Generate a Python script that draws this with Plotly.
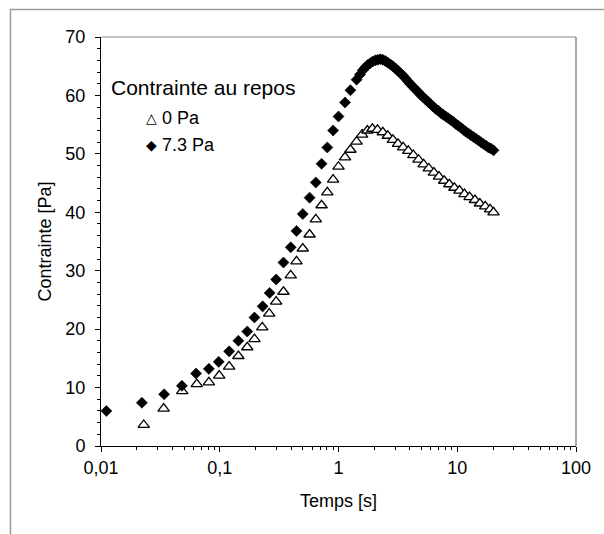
import plotly.graph_objects as go

# ---- data ----
t_0pa = [0.0229, 0.0337, 0.0483, 0.0641, 0.081, 0.099, 0.120, 0.1435, 0.1705, 0.196,
         0.228, 0.261, 0.2985, 0.344, 0.396, 0.443, 0.50, 0.571, 0.644, 0.72,
         0.805, 0.901, 1.0, 1.135, 1.26, 1.42, 1.58, 1.75, 1.93, 2.13,
         2.36, 2.6, 2.87, 3.17, 3.5, 3.87, 4.27, 4.72, 5.21, 5.76,
         6.36, 7.02, 7.76, 8.57, 9.46, 10.45, 11.5, 12.7, 14.1, 15.5,
         17.2, 18.9, 20.2]
s_0pa = [3.6, 6.4, 9.4, 10.6, 10.9, 12.05, 13.6, 15.4, 16.9, 18.3,
         20.3, 22.65, 24.7, 26.4, 29.2, 31.6, 33.8, 36.2, 38.8, 41.2,
         43.4, 45.6, 47.8, 49.4, 50.7, 52.1, 53.3, 54.0, 54.3, 54.1,
         53.7, 53.1, 52.4, 51.7, 51.1, 50.5, 49.8, 49.0, 48.2, 47.5,
         46.8, 46.1, 45.4, 44.8, 44.2, 43.7, 43.1, 42.6, 42.1, 41.5,
         41.0, 40.5, 40.0]

t_73pa = [0.0111, 0.0221, 0.034, 0.048, 0.0632, 0.081, 0.098, 0.120, 0.1435, 0.1705,
          0.196, 0.2297, 0.263, 0.2985, 0.344, 0.396, 0.443, 0.50, 0.571, 0.644,
          0.72, 0.805, 0.901, 1.0, 1.135, 1.26, 1.42,
          1.52, 1.60, 1.68, 1.76, 1.85, 1.94, 2.04, 2.14, 2.25, 2.36,
          2.48, 2.61, 2.74, 2.87, 3.02, 3.17, 3.33, 3.49, 3.67, 3.85,
          4.04, 4.24, 4.46, 4.68, 4.91, 5.16, 5.42, 5.69, 5.97, 6.27,
          6.58, 6.91, 7.26, 7.62, 8.00, 8.40, 8.82, 9.26, 9.73, 10.2,
          10.7, 11.3, 11.8, 12.4, 13.0, 13.7, 14.4, 15.1, 15.8, 16.6,
          17.5, 18.3, 19.2, 20.2]
s_73pa = [6.0, 7.4, 8.85, 10.3, 12.4, 13.2, 14.4, 16.2, 18.0, 19.6,
          22.0, 23.9, 26.2, 28.5, 31.4, 34.0, 36.8, 39.7, 42.5, 45.1,
          48.3, 51.1, 54.0, 56.4, 58.8, 60.9, 62.7,
          63.6, 64.3, 64.8, 65.2, 65.5, 65.8, 66.0, 66.1, 66.2, 66.1,
          65.9, 65.6, 65.3, 65.0, 64.6, 64.2, 63.8, 63.4, 62.9, 62.4,
          61.9, 61.5, 61.0, 60.6, 60.1, 59.7, 59.3, 58.9, 58.5, 58.1,
          57.7, 57.4, 57.0, 56.7, 56.4, 56.1, 55.8, 55.5, 55.1, 54.8,
          54.5, 54.1, 53.8, 53.5, 53.2, 52.9, 52.6, 52.3, 52.0, 51.7,
          51.4, 51.1, 50.9, 50.6]

x_tickvals = [0.01, 0.1, 1, 10, 100]
x_ticktext = ["0,01", "0,1", "1", "10", "100"]
x_minor = [m * d for d in (0.01, 0.1, 1, 10) for m in range(2, 10)]

legend_title = "Contrainte au repos"
names = ["0 Pa", "7.3 Pa"]

FONT = "Liberation Sans, Arial, sans-serif"

fig = go.Figure()
fig.add_trace(go.Scatter(
    x=t_0pa, y=s_0pa, mode="markers", name=names[0],
    marker=dict(symbol="triangle-up", size=10, color="white",
                line=dict(color="black", width=1.3)),
    showlegend=False))
fig.add_trace(go.Scatter(
    x=t_73pa, y=s_73pa, mode="markers", name=names[1],
    marker=dict(symbol="diamond", size=8.5, color="black",
                line=dict(color="black", width=0.6)),
    showlegend=False))

W, H = 604, 534
L, R, T, B = 101, 28, 37, 88
pw, ph = W - L - R, H - T - B


def px(xp):
    return (xp - L) / pw


def py(yp):
    return (H - B - yp) / ph


annos = [
    dict(text=legend_title, x=px(109), y=py(87), xanchor="left", yanchor="middle",
         font=dict(size=21, color="black", family=FONT)),
    dict(text="△", x=px(151.5), y=py(118), xanchor="center", yanchor="middle",
         font=dict(size=14, color="black", family="DejaVu Sans")),
    dict(text=names[0], x=px(160), y=py(118), xanchor="left", yanchor="middle",
         font=dict(size=18, color="black", family=FONT)),
    dict(text="◆", x=px(151.5), y=py(145), xanchor="center", yanchor="middle",
         font=dict(size=14, color="black", family="DejaVu Sans")),
    dict(text=names[1], x=px(160), y=py(145), xanchor="left", yanchor="middle",
         font=dict(size=18, color="black", family=FONT)),
]
for a in annos:
    a.update(xref="paper", yref="paper", showarrow=False)

shapes = [
    # plot-area box (top and right)
    dict(type="line", xref="paper", yref="paper", x0=0, x1=1, y0=1, y1=1,
         line=dict(color="#8c8c8c", width=1.2)),
    dict(type="line", xref="paper", yref="paper", x0=1, x1=1, y0=0, y1=1,
         line=dict(color="#8c8c8c", width=1.5)),
    # outer chart border (top and left)
    dict(type="line", xref="paper", yref="paper", x0=px(10), x1=px(610),
         y0=py(9.5), y1=py(9.5), line=dict(color="#9a9a9a", width=1.5)),
    dict(type="line", xref="paper", yref="paper", x0=px(10.5), x1=px(10.5),
         y0=py(9), y1=py(540), line=dict(color="#9a9a9a", width=1.5)),
]

fig.update_layout(
    width=W, height=H,
    margin=dict(l=L, r=R, t=T, b=B),
    paper_bgcolor="white", plot_bgcolor="white",
    font=dict(family=FONT, size=18, color="black"),
    annotations=annos, shapes=shapes,
)
fig.update_xaxes(
    type="log", range=[-2, 2],
    tickvals=x_tickvals, ticktext=x_ticktext,
    showgrid=False, zeroline=False,
    showline=True, linecolor="black", linewidth=1,
    ticks="outside", ticklen=5, tickcolor="black", tickwidth=1,
    tickfont=dict(size=18, family=FONT),
    minor=dict(tickvals=x_minor, ticks="outside", ticklen=3,
               tickcolor="black", tickwidth=1, showgrid=False),
    title=dict(text="Temps [s]", font=dict(size=18, family=FONT), standoff=17),
)
fig.update_yaxes(
    range=[0, 70], dtick=10,
    showgrid=False, zeroline=False,
    showline=True, linecolor="black", linewidth=1,
    ticks="outside", ticklen=5, tickcolor="black", tickwidth=1,
    tickfont=dict(size=18, family=FONT),
    ticklabelstandoff=6,
    minor=dict(dtick=2, ticks="outside", ticklen=3,
               tickcolor="black", tickwidth=1, showgrid=False),
    title=dict(text="Contrainte [Pa]", font=dict(size=18, family=FONT), standoff=9),
)

fig.write_html("out.html")
